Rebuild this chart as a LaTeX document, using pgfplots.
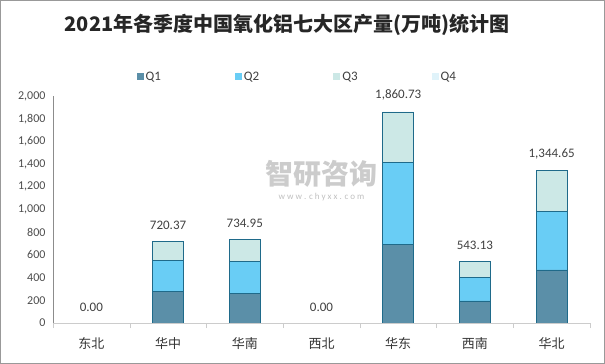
\documentclass[border=0pt]{standalone}
\usepackage{fontspec}
\setmainfont{Carlito}
\newfontfamily\cjk{Noto Sans CJK SC}
\usepackage{pgfplots}
\pgfplotsset{compat=1.18}
\definecolor{cQ1}{HTML}{5B8FA8}
\definecolor{cQ2}{HTML}{69CDF5}
\definecolor{cQ3}{HTML}{CCE8E6}
\definecolor{cQ4}{HTML}{E0F3FA}
\definecolor{edge}{HTML}{1F6A8A}
\begin{document}
\begin{tikzpicture}
\draw[black!40, line width=1pt] (0.5pt,0.5pt) rectangle (604.5pt,363.5pt);
\node[font=\cjk\bfseries\fontsize{20}{24}\selectfont, text=black!85] at (287pt,339pt) {2021年各季度中国氧化铝七大区产量(万吨)统计图};
\begin{axis}[at={(53pt,41pt)}, anchor=south west, scale only axis,
  width=537pt, height=227pt,
  ybar stacked, bar width=31pt,
  ymin=0, ymax=2000, ytick={0,200,...,2000},
  xmin=-0.5, xmax=6.5,
  xtick={0,...,6}, xticklabels={东北,华中,华南,西北,华东,西南,华北},
  minor xtick={-0.5,0.5,...,6.5},
  axis x line*=bottom, axis y line*=left,
  x axis line style={black!20, -}, y axis line style={black!45, -},
  major tick length=0pt, minor tick length=5pt, tick align=outside,
  minor tick style={black!20},
  x tick label style={font=\cjk\fontsize{13}{15}\selectfont, text=black!80, yshift=-11pt},
  y tick label style={font=\fontsize{12}{14}\selectfont, text=black!70, xshift=-4pt},
  /pgf/number format/assume math mode=true,
  /pgf/number format/.cd, 1000 sep={,}, fixed, /pgfplots/.cd,
  legend columns=4,
  legend style={draw=none, at={(0.455,1.085)}, anchor=center, font=\fontsize{13}{15}\selectfont, text=black!75,
    /tikz/every even column/.append style={column sep=72pt}},
  legend image code/.code={\fill[#1, draw=none] (0pt,-3.5pt) rectangle (7pt,3.5pt);},
]
\node[text=black!20, font=\cjk\bfseries\fontsize{28}{30}\selectfont] at (rel axis cs:0.5,0.655) {智研咨询};
\node[text=black!25, font=\fontsize{9}{10}\selectfont] at (rel axis cs:0.5,0.555) {w w w . c h y x x . c o m};
\addplot[fill=cQ1, draw=edge, line width=0.6pt] coordinates {(0,0) (1,276) (2,264) (3,0) (4,696) (5,194) (6,467)};
\addplot[fill=cQ2, draw=edge, line width=0.6pt] coordinates {(0,0) (1,279) (2,282) (3,0) (4,716) (5,205) (6,514)};
\addplot[fill=cQ3, draw=edge, line width=0.6pt] coordinates {(0,0) (1,165.37) (2,188.95) (3,0) (4,448.73) (5,144.13) (6,363.65)};
\addlegendimage{fill=cQ4}
\legend{Q1,Q2,Q3,Q4}
\end{axis}
\begin{axis}[at={(53pt,41pt)}, anchor=south west, scale only axis,
  width=537pt, height=227pt, hide axis,
  ymin=0, ymax=2000, xmin=-0.5, xmax=6.5]
\addplot[draw=none, mark=none, nodes near coords, point meta=explicit symbolic,
  every node near coord/.append style={font=\fontsize{13}{15}\selectfont, text=black!75, anchor=south, yshift=8pt}]
  coordinates {(0,0)[0.00] (1,720.37)[720.37] (2,734.95)[734.95] (3,0)[0.00] (4,1860.73)[{1,860.73}] (5,543.13)[543.13] (6,1344.65)[{1,344.65}]};
\end{axis}
\end{tikzpicture}
\end{document}
